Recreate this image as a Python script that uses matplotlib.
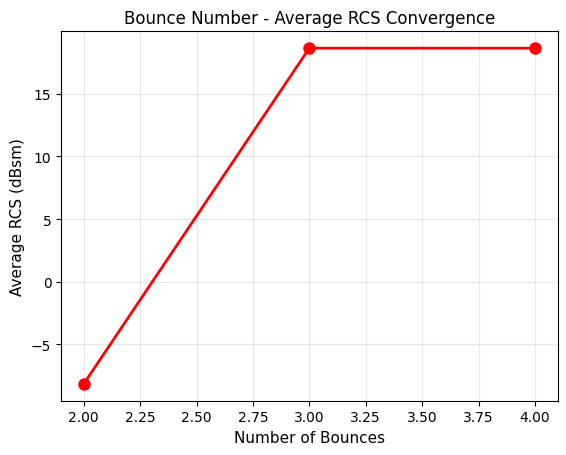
import matplotlib.pyplot as plt

# Data
bounces = [2, 3, 4]
avg_rcs = [-8.15, 18.62, 18.62]

fig, ax = plt.subplots(figsize=(5.66, 4.56), dpi=100)
fig.subplots_adjust(left=0.108, right=0.985, top=0.929, bottom=0.119)

ax.plot(bounces, avg_rcs, 'ro-', linewidth=2, markersize=8)

ax.set_xlabel('Number of Bounces', fontsize=11)
ax.set_ylabel('Average RCS (dBsm)', fontsize=11)
ax.set_title('Bounce Number - Average RCS Convergence', fontsize=12)
ax.grid(True, alpha=0.3)

plt.savefig('out.png')
